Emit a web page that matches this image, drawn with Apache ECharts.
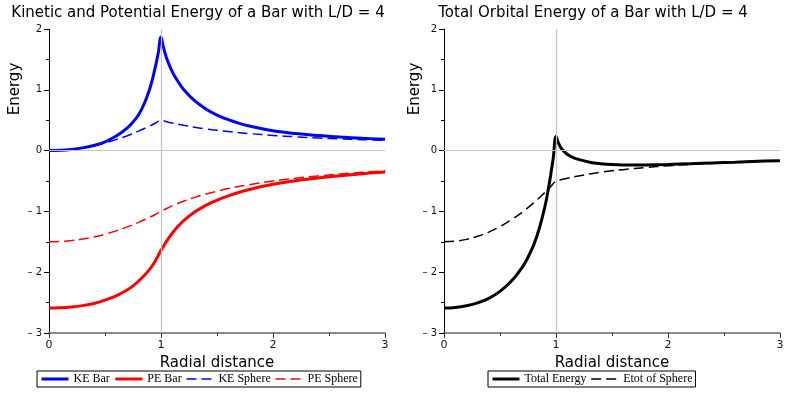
<!DOCTYPE html>
<html>
<head>
<meta charset="utf-8">
<script src="https://cdn.jsdelivr.net/npm/echarts/dist/echarts.min.js"></script>
<style>
  html, body { margin: 0; padding: 0; background: #fff; }
  #main { width: 789px; height: 395px; }
</style>
</head>
<body>
<div id="main"></div>
<script>
// bar curves
const xBar = [0, 0.1, 0.2, 0.3, 0.4, 0.5, 0.6, 0.7, 0.75, 0.8, 0.85, 0.9, 0.925, 0.95, 0.975, 1.0, 1.02, 1.05, 1.1, 1.15, 1.2, 1.3, 1.4, 1.5, 1.6, 1.7, 1.8, 2.0, 2.2, 2.4, 2.6, 2.8, 3.0];
const keBar = [0, 0.005, 0.02, 0.045, 0.085, 0.145, 0.24, 0.375, 0.47, 0.59, 0.77, 1.02, 1.185, 1.38, 1.6, 1.87, 1.71, 1.52, 1.30, 1.14, 1.01, 0.82, 0.685, 0.585, 0.508, 0.447, 0.399, 0.327, 0.28, 0.248, 0.223, 0.203, 0.185];
const peBar = [-2.59, -2.585, -2.572, -2.55, -2.515, -2.46, -2.39, -2.29, -2.225, -2.145, -2.055, -1.95, -1.885, -1.81, -1.727, -1.64, -1.58, -1.49, -1.36, -1.25, -1.155, -1.01, -0.90, -0.815, -0.745, -0.685, -0.635, -0.555, -0.495, -0.45, -0.413, -0.38, -0.35];
const totBar = [-2.59, -2.58, -2.552, -2.505, -2.43, -2.315, -2.15, -1.915, -1.755, -1.555, -1.285, -0.93, -0.70, -0.43, -0.127, 0.23, 0.13, 0.03, -0.06, -0.11, -0.145, -0.19, -0.215, -0.23, -0.237, -0.238, -0.236, -0.228, -0.215, -0.202, -0.19, -0.177, -0.165];

// sphere curves
const xSph = [0, 0.1, 0.2, 0.3, 0.4, 0.5, 0.6, 0.7, 0.8, 0.9, 0.95, 1.0, 1.05, 1.1, 1.2, 1.3, 1.4, 1.5, 1.6, 1.8, 2.0, 2.2, 2.4, 2.6, 2.8, 3.0];
const keSph = [0, 0.005, 0.02, 0.045, 0.08, 0.125, 0.18, 0.245, 0.32, 0.405, 0.451, 0.5, 0.476, 0.455, 0.417, 0.385, 0.357, 0.333, 0.313, 0.278, 0.25, 0.227, 0.208, 0.192, 0.179, 0.167];
const peSph = [-1.5, -1.495, -1.48, -1.455, -1.42, -1.375, -1.32, -1.255, -1.18, -1.095, -1.049, -1.0, -0.952, -0.909, -0.833, -0.769, -0.714, -0.667, -0.625, -0.556, -0.5, -0.455, -0.417, -0.385, -0.357, -0.333];
const totSph = [-1.5, -1.49, -1.46, -1.41, -1.34, -1.25, -1.14, -1.01, -0.86, -0.69, -0.598, -0.5, -0.476, -0.455, -0.417, -0.385, -0.357, -0.333, -0.313, -0.278, -0.25, -0.227, -0.208, -0.192, -0.179, -0.167];

const leftNames = ['KE Bar', 'PE Bar', 'KE Sphere', 'PE Sphere'];
const rightNames = ['Total Energy', 'Etot of Sphere'];
const dashedNames = ['KE Sphere', 'PE Sphere', 'Etot of Sphere'];

const zip = (xs, ys) => xs.map((x, i) => [x, ys[i]]);

const sans = 'DejaVu Sans';
const serif = 'Liberation Serif';
const dash = [10, 5];

const chart = echarts.init(document.getElementById('main'));

const makeX = (idx) => ({
  type: 'value',
  gridIndex: idx,
  min: 0,
  max: 3,
  interval: 1,
  name: 'Radial distance',
  nameLocation: 'middle',
  nameGap: 18,
  nameTextStyle: { fontFamily: sans, fontSize: 15, color: '#000' },
  axisLine: { onZero: false, lineStyle: { color: '#666', width: 1.5 } },
  axisTick: { length: 5, lineStyle: { color: '#333' } },
  minorTick: { show: true, splitNumber: 2, length: 3, lineStyle: { color: '#333' } },
  axisLabel: { margin: 7, fontFamily: sans, fontSize: 11, color: '#111' },
  splitLine: { show: false }
});

const makeY = (idx) => ({
  type: 'value',
  gridIndex: idx,
  min: -3,
  max: 2,
  interval: 1,
  axisLine: { show: true, onZero: false, lineStyle: { color: '#000', width: 1 } },
  axisTick: { show: true, length: 5, lineStyle: { color: '#000' } },
  minorTick: { show: true, splitNumber: 2, length: 3, lineStyle: { color: '#000' } },
  axisLabel: {
    margin: 7, fontFamily: sans, fontSize: 10, color: '#111',
    formatter: v => (v < 0 ? '\u2013 ' + (-v) : String(v))
  },
  splitLine: { show: false }
});

const guides = (xi) => ({
  type: 'line',
  xAxisIndex: xi,
  yAxisIndex: xi,
  data: [],
  z: 1,
  silent: true,
  markLine: {
    silent: true,
    symbol: ['none', 'none'],
    label: { show: false },
    lineStyle: { color: '#c4c4c4', type: 'solid', width: 1.2 },
    data: [{ xAxis: 1 }, { yAxis: 0 }]
  }
});

const curve = (name, xi, xs, ys, color, width, dashed) => ({
  name: name,
  type: 'line',
  xAxisIndex: xi,
  yAxisIndex: xi,
  data: zip(xs, ys),
  showSymbol: false,
  symbol: 'none',
  smooth: 0.4,
  z: 3,
  lineStyle: { color: color, width: width, type: dashed ? dash : 'solid' },
  itemStyle: { color: color }
});

const legendItems = (names) => names.map(n => {
  const dashed = dashedNames.indexOf(n) >= 0;
  return {
    name: n,
    lineStyle: { type: dashed ? dash : 'solid', width: dashed ? 1.5 : 3 }
  };
});

const legendBase = {
  orient: 'horizontal',
  top: 371,
  padding: [2, 3],
  itemWidth: 27,
  itemHeight: 12,
  itemGap: 4,
  borderColor: '#000',
  borderWidth: 1,
  itemStyle: { opacity: 0 },
  textStyle: { fontFamily: serif, fontSize: 12, color: '#000' }
};

const txt = (text, x, y, rot) => ({
  type: 'text',
  x: x,
  y: y,
  rotation: rot || 0,
  style: {
    text: text,
    fontFamily: sans,
    fontSize: 15,
    fill: '#000',
    textAlign: 'center',
    textVerticalAlign: 'middle'
  }
});

chart.setOption({
  animation: false,
  backgroundColor: '#fff',
  grid: [
    { left: 49, top: 29, width: 336, height: 304 },
    { left: 444, top: 29, width: 336, height: 304 }
  ],
  xAxis: [makeX(0), makeX(1)],
  yAxis: [makeY(0), makeY(1)],
  legend: [
    Object.assign({}, legendBase, { left: 37, data: legendItems(leftNames) }),
    Object.assign({}, legendBase, { left: 488, data: legendItems(rightNames) })
  ],
  graphic: [
    txt('Kinetic and Potential Energy of a Bar with L/D = 4', 198, 13),
    txt('Total Orbital Energy of a Bar with L/D = 4', 593, 13),
    txt('Energy', 15, 89, Math.PI / 2),
    txt('Energy', 415, 89, Math.PI / 2)
  ],
  series: [
    guides(0),
    guides(1),
    curve('KE Bar', 0, xBar, keBar, '#0000ff', 3, false),
    curve('PE Bar', 0, xBar, peBar, '#ff0000', 3, false),
    curve('KE Sphere', 0, xSph, keSph, '#0000ff', 1.5, true),
    curve('PE Sphere', 0, xSph, peSph, '#ff0000', 1.5, true),
    curve('Total Energy', 1, xBar, totBar, '#000000', 3, false),
    curve('Etot of Sphere', 1, xSph, totSph, '#000000', 1.5, true)
  ]
});
</script>
</body>
</html>
